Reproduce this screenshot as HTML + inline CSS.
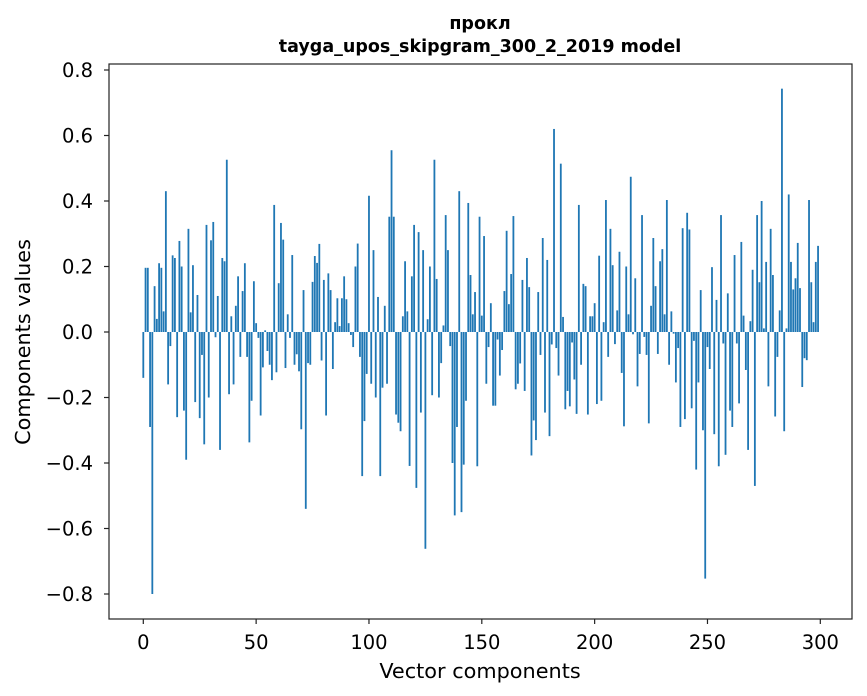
<!DOCTYPE html>
<html><head><meta charset="utf-8"><style>
html,body{margin:0;padding:0;background:#fff;}
svg{display:block;font-family:"DejaVu Sans","Liberation Sans",sans-serif;}
</style></head><body>
<svg id="chart" width="867" height="696" viewBox="0 0 867 696" xmlns="http://www.w3.org/2000/svg">
<rect x="0" y="0" width="867" height="696" fill="#fff"/>
<text x="480" y="29" text-anchor="middle" font-size="17.5" font-weight="bold">прокл</text>
<text x="480" y="52" text-anchor="middle" font-size="17.5" font-weight="bold">tayga_upos_skipgram_300_2_2019 model</text>
<g id="bars"></g>
<g id="xaxis"></g>
<g id="yaxis"></g>
<rect x="109" y="64" width="743" height="555" fill="none" stroke="#222" stroke-width="1.2"/>
<text x="480" y="678" text-anchor="middle" font-size="20.8">Vector components</text>
<text transform="translate(30,342) rotate(-90)" text-anchor="middle" font-size="20.8">Components values</text>
</svg>
<script>
const values = [
-0.14,0.196,0.196,-0.29,-0.80,0.14,0.04,0.21,0.196,0.063,0.43,-0.16,-0.043,0.234,0.226,-0.26,0.278,0.2,-0.24,-0.39,
0.315,0.06,0.204,-0.214,0.113,-0.263,-0.07,-0.343,0.327,-0.2,0.28,0.336,-0.016,0.11,-0.36,0.226,0.216,0.526,-0.19,0.048,
-0.16,0.08,0.17,-0.076,0.125,0.21,-0.076,-0.337,-0.21,0.155,
0.027,-0.018,-0.255,-0.108,0.005,-0.058,-0.10,-0.147,0.388,-0.123,0.149,0.333,0.282,-0.11,0.054,-0.018,0.235,-0.1,-0.068,-0.12,
-0.297,0.128,-0.54,-0.095,-0.1,0.153,0.232,0.211,0.269,-0.087,0.159,-0.255,0.179,0.128,-0.113,0.03,0.103,0.018,0.103,0.17,
0.1,0.027,-0.009,-0.046,0.2,0.27,-0.076,-0.44,-0.272,-0.128,
0.416,-0.158,0.25,-0.2,0.107,-0.44,-0.17,0.08,-0.158,0.352,0.555,0.352,-0.252,-0.277,-0.303,0.048,0.216,0.063,-0.409,0.17,
0.327,-0.476,0.305,-0.246,0.25,-0.662,0.039,0.2,-0.193,0.526,0.162,-0.2,-0.095,0.02,0.357,0.25,-0.043,-0.4,-0.56,-0.29,
0.43,-0.55,-0.405,-0.21,0.394,0.174,0.054,0.122,-0.41,0.352,
0.05,0.293,-0.158,-0.046,0.088,-0.225,-0.225,-0.023,-0.133,-0.055,0.125,0.309,0.085,0.177,0.354,-0.175,-0.158,-0.096,0.159,-0.18,
0.226,0.137,-0.377,-0.27,-0.33,0.122,-0.07,0.287,-0.246,0.22,-0.318,-0.038,0.62,-0.049,-0.133,0.514,0.046,-0.236,-0.18,-0.227,
-0.032,-0.145,-0.25,0.388,-0.1,0.147,0.14,-0.252,0.048,0.048,
0.088,-0.22,0.233,-0.21,0.03,0.403,-0.076,0.315,0.204,-0.037,0.066,0.245,-0.125,-0.288,0.2,0.054,0.474,-0.007,0.164,-0.166,
-0.067,0.357,-0.015,-0.07,-0.279,0.08,0.287,0.14,-0.067,0.216,0.253,0.054,0.403,-0.1,0.063,-0.005,-0.154,-0.049,-0.29,0.317,
-0.266,0.364,0.313,-0.233,-0.027,-0.42,-0.154,0.128,-0.3,-0.753,
-0.046,-0.113,0.198,-0.312,0.098,-0.41,0.357,-0.035,-0.375,0.118,-0.24,-0.29,0.235,-0.035,-0.218,0.275,0.05,-0.116,-0.36,0.033,
0.19,-0.47,0.357,0.152,0.4,0.011,0.214,-0.166,0.315,0.174,-0.258,-0.076,0.066,0.743,-0.303,0.011,0.42,0.214,0.13,0.164,
0.272,0.134,-0.168,-0.08,-0.086,0.403,0.152,0.03,0.214,0.263
];
const xTicks = [0,50,100,150,200,250,300];
const yTicks = [-0.8,-0.6,-0.4,-0.2,0.0,0.2,0.4,0.6,0.8];
const yTickLabels = ["\u22120.8","\u22120.6","\u22120.4","\u22120.2","0.0","0.2","0.4","0.6","0.8"];

const NS = "http://www.w3.org/2000/svg";
function xScale(v){ return 143.3 + v*2.2567; }
function yScale(v){ return 332 - v*327.5; }
const barW = 0.8*2.2567;
const gb = document.getElementById('bars');
values.forEach((v,i)=>{
  const r = document.createElementNS(NS,'rect');
  const y0 = yScale(0), y1 = yScale(v);
  r.setAttribute('x', xScale(i)-barW/2);
  r.setAttribute('y', Math.min(y0,y1));
  r.setAttribute('width', barW);
  r.setAttribute('height', Math.abs(y1-y0));
  r.setAttribute('fill', '#1f77b4');
  
  
  gb.appendChild(r);
});
const gx = document.getElementById('xaxis');
xTicks.forEach(t=>{
  const x = xScale(t);
  const l = document.createElementNS(NS,'line');
  l.setAttribute('x1',x); l.setAttribute('x2',x); l.setAttribute('y1',619); l.setAttribute('y2',624);
  l.setAttribute('stroke','#222'); l.setAttribute('stroke-width','1.2');
  
  
  gx.appendChild(l);
  const tx = document.createElementNS(NS,'text');
  tx.setAttribute('x',x); tx.setAttribute('y',649); tx.setAttribute('text-anchor','middle'); tx.setAttribute('font-size','19.5');
  tx.textContent = String(t);
  
  
  gx.appendChild(tx);
});
const gy = document.getElementById('yaxis');
yTicks.forEach((t,i)=>{
  const y = yScale(t);
  const l = document.createElementNS(NS,'line');
  l.setAttribute('x1',104); l.setAttribute('x2',109); l.setAttribute('y1',y); l.setAttribute('y2',y);
  l.setAttribute('stroke','#222'); l.setAttribute('stroke-width','1.2');
  
  
  gy.appendChild(l);
  const tx = document.createElementNS(NS,'text');
  tx.setAttribute('x',93); tx.setAttribute('y',y+7); tx.setAttribute('text-anchor','end'); tx.setAttribute('font-size','19.5');
  tx.textContent = yTickLabels[i];
  
  
  gy.appendChild(tx);
});
</script>
</body></html>
